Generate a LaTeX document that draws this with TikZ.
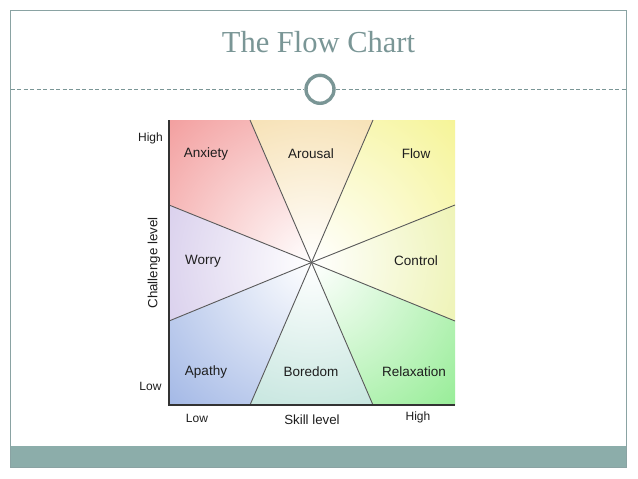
\documentclass[tikz,border=0pt]{standalone}
\usepackage{fontspec}
\setmainfont{Liberation Sans}
\newfontfamily\titlefont{Liberation Serif}
\definecolor{framec}{RGB}{138,163,163}
\definecolor{bandc}{RGB}{140,173,170}
\definecolor{titlec}{RGB}{122,150,150}
\definecolor{cAnx}{RGB}{238,122,122}
\definecolor{cAro}{RGB}{243,212,148}
\definecolor{cFlow}{RGB}{242,240,112}
\definecolor{cWor}{RGB}{200,186,228}
\definecolor{cCon}{RGB}{230,238,148}
\definecolor{cApa}{RGB}{128,157,220}
\definecolor{cBor}{RGB}{172,218,208}
\definecolor{cRel}{RGB}{112,230,112}
\definecolor{textc}{RGB}{30,30,30}
\tikzset{
  region/.style={font=\fontsize{13.5}{16}\selectfont, text=textc, inner sep=0pt},
  axislbl/.style={font=\fontsize{12}{14}\selectfont, text=textc, inner sep=0pt},
  axistitle/.style={font=\fontsize{13.3}{16}\selectfont, text=textc, inner sep=0pt},
  divider/.style={draw=black!65, line width=0.9pt},
  axisline/.style={draw=black!80, line width=1.6pt},
}
\begin{document}
\begin{tikzpicture}[x=1pt,y=-1pt]
\useasboundingbox (0,0) rectangle (638,479);
\fill[white] (0,0) rectangle (638,479);
% frame and band
\fill[bandc] (10.5,446) rectangle (626.5,467);
\draw[framec, line width=1pt] (10.5,10) rectangle (626.5,467);
% title
\node[font=\titlefont\fontsize{30.5}{34}\selectfont, text=titlec, anchor=base, inner sep=0pt] (title) at (318.5,52.7) {The Flow Chart};
% ornament
\node[draw=titlec, line width=3.4pt, circle, minimum size=28pt, inner sep=0pt] (orn) at (320,89.3) {};
\coordinate (dl) at (10.5,89.3);
\coordinate (dr) at (626.5,89.3);
\draw[titlec, line width=0.8pt, dash pattern=on 4pt off 2.5pt] (dl) -- (orn.west);
\draw[titlec, line width=0.8pt, dash pattern=on 4pt off 2.5pt] (orn.east) -- (dr);
% chart geometry
\coordinate (C) at (311.5,262.5);
\coordinate (TL) at (169,120);
\coordinate (TR) at (455,120);
\coordinate (BL) at (169,405);
\coordinate (BR) at (455,405);
\coordinate (T1) at (250,120);
\coordinate (T2) at (373,120);
\coordinate (B1) at (250,405);
\coordinate (B2) at (373,405);
\coordinate (L1) at (169,205);
\coordinate (L2) at (169,321);
\coordinate (R1) at (455,205);
\coordinate (R2) at (455,321);
% sectors
\begin{scope}\clip (C) -- (L1) -- (TL) -- (T1) -- cycle;
\shade[inner color=white, outer color=cAnx] (C) circle (280pt);\end{scope}
\begin{scope}\clip (C) -- (T1) -- (T2) -- cycle;
\shade[inner color=white, outer color=cAro] (C) circle (230pt);\end{scope}
\begin{scope}\clip (C) -- (T2) -- (TR) -- (R1) -- cycle;
\shade[inner color=white, outer color=cFlow] (C) circle (280pt);\end{scope}
\begin{scope}\clip (C) -- (R1) -- (R2) -- cycle;
\shade[inner color=white, outer color=cCon] (C) circle (230pt);\end{scope}
\begin{scope}\clip (C) -- (R2) -- (BR) -- (B2) -- cycle;
\shade[inner color=white, outer color=cRel] (C) circle (280pt);\end{scope}
\begin{scope}\clip (C) -- (B2) -- (B1) -- cycle;
\shade[inner color=white, outer color=cBor] (C) circle (230pt);\end{scope}
\begin{scope}\clip (C) -- (B1) -- (BL) -- (L2) -- cycle;
\shade[inner color=white, outer color=cApa] (C) circle (280pt);\end{scope}
\begin{scope}\clip (C) -- (L2) -- (L1) -- cycle;
\shade[inner color=white, outer color=cWor] (C) circle (230pt);\end{scope}
% dividers
\foreach \p in {T1,T2,B1,B2,L1,L2,R1,R2}{\draw[divider] (C) -- (\p);}
% axes
\draw[axisline] (TL) -- (BL) -- (BR);
% region labels
\node[region] (anx) at (206,154) {Anxiety};
\node[region] (aro) at (311,154) {Arousal};
\node[region] (flow) at (416,154) {Flow};
\node[region] (wor) at (203,261) {Worry};
\node[region] (con) at (416,261) {Control};
\node[region] (apa) at (206,372) {Apathy};
\node[region] (bor) at (311,372) {Boredom};
\node[region] (rel) at (414,372) {Relaxation};
% axis labels
\node[axislbl] (yhigh) at (150.5,138.5) {High};
\node[axislbl] (ylow) at (150.5,386.5) {Low};
\node[axislbl] (xlow) at (197,418) {Low};
\node[axislbl] (xhigh) at (418,417) {High};
\node[axistitle] (xtitle) at (312,420) {Skill level};
\node[axistitle, rotate=90] (ytitle) at (154,263) {Challenge level};
\end{tikzpicture}
\end{document}
